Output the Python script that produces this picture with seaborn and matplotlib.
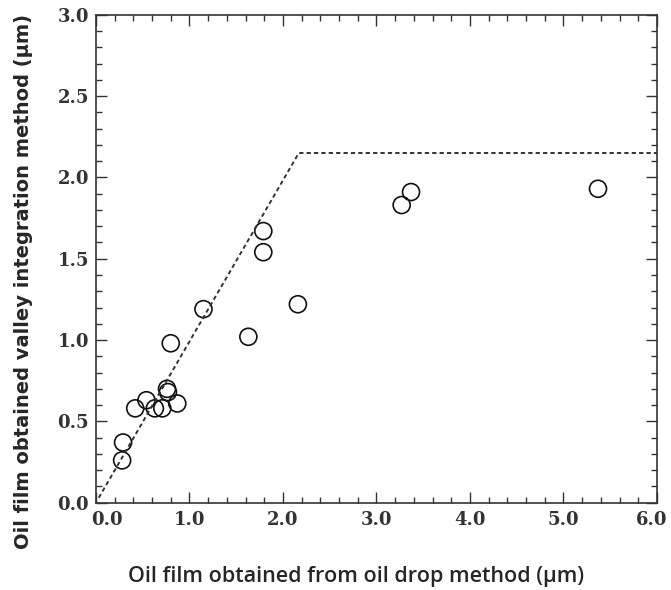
import numpy as np
import matplotlib
matplotlib.use("Agg")
import matplotlib.pyplot as plt
import matplotlib.transforms as mtransforms
from matplotlib.ticker import MultipleLocator
import seaborn as sns
import pandas as pd

# measured points (oil drop method vs valley integration method), um
drop_film = [0.28, 0.29, 0.42, 0.54, 0.63, 0.71, 0.77, 0.76, 0.87, 0.80,
             1.15, 1.63, 1.79, 1.79, 2.16, 3.27, 3.37, 5.37]
valley_film = [0.26, 0.37, 0.58, 0.63, 0.58, 0.58, 0.68, 0.70, 0.61, 0.98,
               1.19, 1.02, 1.54, 1.67, 1.22, 1.83, 1.91, 1.93]

# dashed guide line (y = x capped)
guide_x = [0.03, 2.17, 6.0]
guide_y = [0.03, 2.15, 2.15]

x_ticks = [0.0, 1.0, 2.0, 3.0, 4.0, 5.0, 6.0]
y_ticks = [0.0, 0.5, 1.0, 1.5, 2.0, 2.5, 3.0]

sns.set_style("ticks")
plt.rcParams['font.family'] = ['DejaVu Sans']

df = pd.DataFrame({'x': drop_film, 'y': valley_film})
guide = pd.DataFrame({'x': guide_x, 'y': guide_y})

fig = plt.figure(figsize=(6.71, 5.90), dpi=100)
ax = fig.add_axes([0.143, 0.148, 0.836, 0.827])

sns.lineplot(data=guide, x='x', y='y', ax=ax, color='#333333',
             linewidth=1.4, dashes=False, sort=False)
ax.lines[0].set_linestyle((0, (2.2, 1.6)))
sns.scatterplot(data=df, x='x', y='y', ax=ax, s=150, marker='o',
                facecolor='none', edgecolor='#111111', linewidth=1.2)

ax.set_xlim(0, 6)
ax.set_ylim(0, 3)
ax.set_xticks(x_ticks)
ax.set_yticks(y_ticks)
ax.set_xticklabels([f'{v:.1f}' for v in x_ticks])
ax.set_yticklabels([f'{v:.1f}' for v in y_ticks])
ax.xaxis.set_minor_locator(MultipleLocator(0.2))
ax.yaxis.set_minor_locator(MultipleLocator(0.1))
ax.tick_params(which='both', direction='in', top=True, right=True,
               color='#333333', width=1.0)
ax.tick_params(which='major', length=8)
ax.tick_params(axis='x', which='major', pad=6)
ax.tick_params(axis='y', which='major', pad=5)
ax.tick_params(which='minor', length=4)
for lab in ax.get_xticklabels() + ax.get_yticklabels():
    lab.set_fontfamily('DejaVu Serif')
    lab.set_fontweight('bold')
    lab.set_fontsize(13)
    lab.set_color('#333333')
# nudge the end x labels inward (away from the y "0.0" and the figure edge)
xlabs = ax.get_xticklabels()
xlabs[0].set_transform(xlabs[0].get_transform() +
                       mtransforms.ScaledTranslation(0.11, 0, fig.dpi_scale_trans))
xlabs[-1].set_transform(xlabs[-1].get_transform() +
                        mtransforms.ScaledTranslation(-0.05, 0, fig.dpi_scale_trans))
for sp in ax.spines.values():
    sp.set_color('#333333')
    sp.set_linewidth(1.2)

ax.set_xlabel('Oil film obtained from oil drop method (\u00b5m)',
              fontfamily='Open Sans', fontweight='semibold', fontsize=15.5)
ax.set_ylabel('Oil film obtained valley integration method (\u00b5m)',
              fontfamily='DejaVu Sans', fontweight='bold', fontsize=14)
ax.xaxis.set_label_coords(0.464, -0.13)
ax.yaxis.set_label_coords(-0.112, 0.453)

fig.savefig('out.png', dpi=100)
